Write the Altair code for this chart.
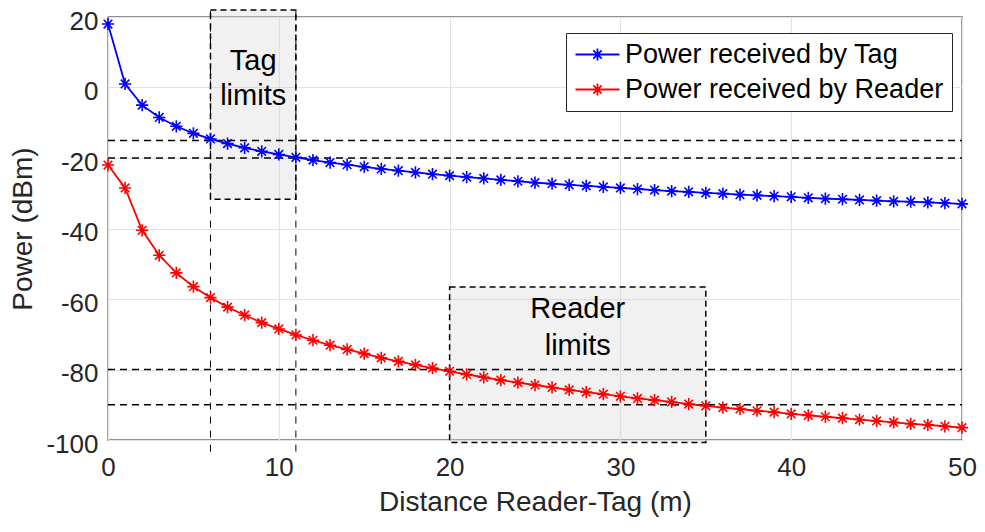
import altair as alt
import pandas as pd

# ---------------- data ----------------
distance = list(range(0, 51))

tag_power = [18.0, 1.0, -5.0, -8.5, -11.0, -13.0, -14.6, -15.9, -17.1, -18.1,
             -19.0, -19.8, -20.6, -21.3, -21.9, -22.5, -23.1, -23.6, -24.1, -24.6,
             -25.0, -25.4, -25.8, -26.2, -26.6, -27.0, -27.3, -27.6, -27.9, -28.2,
             -28.5, -28.8, -29.1, -29.4, -29.6, -29.9, -30.1, -30.4, -30.6, -30.8,
             -31.0, -31.3, -31.5, -31.7, -31.9, -32.1, -32.3, -32.4, -32.6, -32.8,
             -33.0]

reader_power = [-22.0, -28.5, -40.5, -47.6, -52.6, -56.5, -59.6, -62.3, -64.6, -66.7,
                -68.5, -70.2, -71.7, -73.1, -74.3, -75.5, -76.7, -77.7, -78.7, -79.6,
                -80.5, -81.4, -82.2, -83.0, -83.7, -84.4, -85.1, -85.8, -86.4, -87.0,
                -87.6, -88.2, -88.7, -89.2, -89.8, -90.3, -90.8, -91.2, -91.7, -92.1,
                -92.6, -93.0, -93.4, -93.8, -94.2, -94.6, -95.0, -95.4, -95.7, -96.1,
                -96.5]

series_names = ["Power received by Tag", "Power received by Reader"]
series_colors = ["#0000ff", "#ff0000"]

threshold_levels = [-15, -20, -80, -90]
threshold_x_start = [0, 0, 0, 0]
threshold_x_end = [50, 50, 50, 50]

tag_limit_x = [6, 11]
tag_limit_line_bottom = [-103.3, -103.3]
tag_limit_line_top = [22.0, 22.0]

box_x1 = [6, 20]
box_x2 = [11, 35]
box_y1 = [-31.7, -100.7]
box_y2 = [22.0, -56.6]

label_text = ["Tag", "limits", "Reader", "limits"]
label_x = [8.5, 8.5, 27.5, 27.5]
label_y = [5.0, -4.9, -65.3, -75.8]

x_ticks = [0, 10, 20, 30, 40, 50]
y_ticks = [-100, -80, -60, -40, -20, 0, 20]

# ---------------- tables ----------------
series_df = pd.DataFrame({
    "d": distance * 2,
    "p": tag_power + reader_power,
    "s": [series_names[0]] * len(distance) + [series_names[1]] * len(distance),
})
thr_df = pd.DataFrame({"y": threshold_levels, "x": threshold_x_start, "x2": threshold_x_end})
vline_df = pd.DataFrame({"x": tag_limit_x, "y": tag_limit_line_bottom, "y2": tag_limit_line_top})
box_df = pd.DataFrame({"x": box_x1, "x2": box_x2, "y": box_y1, "y2": box_y2})
lab_df = pd.DataFrame({"t": label_text, "x": label_x, "y": label_y})

FONT = "Liberation Sans"
ASTERISK = "M-1,0L1,0M0,-1L0,1M-0.7,-0.7L0.7,0.7M-0.7,0.7L0.7,-0.7"
LEGEND_SYMBOL = ("M-1.2,0L3.2,0M1.0,-0.6L1.0,0.6M0.58,-0.42L1.42,0.42"
                 "M0.58,0.42L1.42,-0.42")

xscale = alt.Scale(domain=[0, 50], nice=False, zero=False)
yscale = alt.Scale(domain=[-100, 20], nice=False, zero=False)

xaxis = alt.Axis(values=x_ticks, title="Distance Reader-Tag (m)", labelPadding=14,
                 titlePadding=8, labelFlush=False, labelExpr="'' + datum.value",
                 labelFontSize=26, titleFontSize=28)
yaxis = alt.Axis(values=y_ticks, title="Power (dBm)", labelPadding=10,
                 titlePadding=8, labelFlush=False, labelExpr="'' + datum.value",
                 labelOffset=4, labelFontSize=26, titleFontSize=28)

legend = alt.Legend(title=None, orient="none", legendX=458, legendY=16,
                    symbolType=LEGEND_SYMBOL, symbolSize=400, symbolStrokeWidth=1.8,
                    symbolFillColor="transparent",
                    labelFont=FONT, labelFontSize=27, labelColor="#000000",
                    labelOffset=24, labelLimit=0, rowPadding=7, padding=8,
                    strokeColor="#262626", fillColor="white")

color = alt.Color("s:N", scale=alt.Scale(domain=series_names, range=series_colors),
                  legend=legend)

boxes = alt.Chart(box_df).mark_rect(
    fill="#d0d0d0", fillOpacity=0.3, stroke="black", strokeDash=[6, 4], strokeWidth=1.5
).encode(
    x=alt.X("x:Q", scale=xscale, axis=xaxis),
    x2="x2:Q",
    y=alt.Y("y:Q", scale=yscale, axis=yaxis),
    y2="y2:Q",
)

vlines = alt.Chart(vline_df).mark_rule(
    color="black", strokeDash=[7, 7], strokeWidth=1
).encode(x=alt.X("x:Q", scale=xscale), y=alt.Y("y:Q", scale=yscale), y2="y2:Q")

hlines = alt.Chart(thr_df).mark_rule(
    color="black", strokeDash=[7, 5], strokeWidth=1.5
).encode(y=alt.Y("y:Q", scale=yscale), x=alt.X("x:Q", scale=xscale), x2="x2:Q")

lines = alt.Chart(series_df).mark_line(strokeWidth=1.8).encode(
    x=alt.X("d:Q", scale=xscale),
    y=alt.Y("p:Q", scale=yscale),
    color=color,
)

points = alt.Chart(series_df).mark_point(
    shape=ASTERISK, size=150, filled=False, strokeWidth=1.6, opacity=1
).encode(
    x=alt.X("d:Q", scale=xscale),
    y=alt.Y("p:Q", scale=yscale),
    color=color,
)

labels = alt.Chart(lab_df).mark_text(
    font=FONT, fontSize=29, color="black", align="center", baseline="alphabetic"
).encode(x=alt.X("x:Q", scale=xscale), y=alt.Y("y:Q", scale=yscale), text="t:N")

chart = alt.layer(boxes, vlines, hlines, lines, points, labels).properties(
    width=854, height=423,
    autosize=alt.AutoSizeParams(type="none"),
    padding={"left": 100, "top": 9, "right": 15, "bottom": 84},
).configure_view(
    stroke="#262626", strokeWidth=1.3
).configure_axis(
    grid=True, gridColor="#e3e3e3", gridWidth=1.2, domain=False, ticks=False,
    labelFont=FONT, labelColor="#262626",
    titleFont=FONT, titleFontWeight="normal", titleColor="#262626",
)

chart.save("out.html", embed_options={"renderer": "svg", "actions": False})
